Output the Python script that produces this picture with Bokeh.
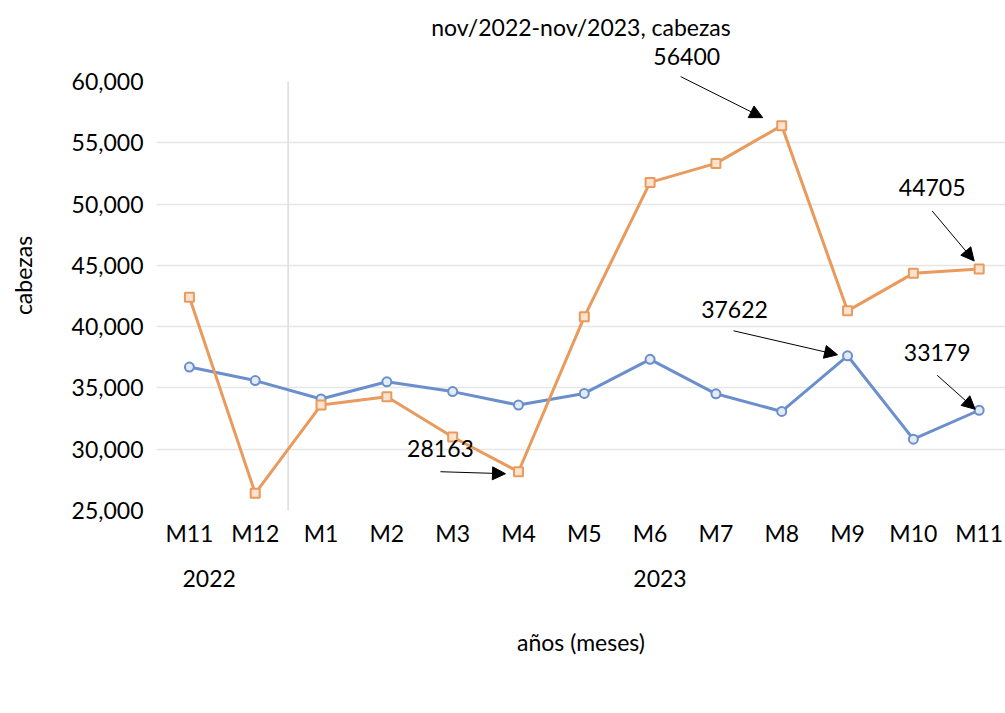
import math
from bokeh.plotting import figure
from bokeh.models import (Range1d, FixedTicker, NumeralTickFormatter, Label, Arrow,
                          NormalHead, Legend, LegendItem, LinearAxis)
from bokeh.embed import file_html
from bokeh.resources import INLINE

months = ["M11", "M12", "M1", "M2", "M3", "M4", "M5", "M6", "M7", "M8", "M9", "M10", "M11"]
antioquia = [36700, 35600, 34100, 35500, 34700, 33600, 34550, 37330, 34520, 33080, 37622, 30820, 33179]
caribe = [42400, 26400, 33600, 34280, 31000, 28163, 40800, 51770, 53320, 56400, 41290, 44350, 44705]
y_ticks = [25000, 30000, 35000, 40000, 45000, 50000, 55000, 60000]
years = ["2022", "2023"]
year_pos = [0.3, 7.15]

FONT = "Lato"
BLUE = "#6a8fcc"
ORANGE = "#e99a5c"
FS = "23px"

x = list(range(len(months)))

# scale helpers (pixels -> data units)
PX_X = 65.8          # pixels per category
PX_Y = 429 / 35000   # pixels per unit value

p = figure(frame_width=849, frame_height=470, output_backend="svg", toolbar_location=None,
           x_range=Range1d(-0.5, 12.4), y_range=Range1d(25000, 60000 + 41 / PX_Y),
           min_border_left=156, min_border_top=40, min_border_right=0, min_border_bottom=170)
p.outline_line_color = None
p.background_fill_color = "white"
p.border_fill_color = "white"

p.title.text = "nov/2022-nov/2023, cabezas"
p.title.align = "center"
p.title.text_font = FONT
p.title.text_font_size = FS
p.title.text_font_style = "normal"
p.title.text_color = "#000000"
p.title.standoff = 0

# axes
p.yaxis.ticker = FixedTicker(ticks=y_ticks)
p.yaxis.bounds = (y_ticks[0], y_ticks[-1])
p.yaxis.formatter = NumeralTickFormatter(format="0,0")
p.yaxis.axis_line_color = None
p.yaxis.major_tick_line_color = None
p.yaxis.minor_tick_line_color = None
p.yaxis.major_tick_out = 0
p.yaxis.major_tick_in = 0
p.yaxis.major_label_standoff = 13
p.yaxis.major_label_text_font = FONT
p.yaxis.major_label_text_font_size = FS
p.yaxis.major_label_text_color = "#000000"
p.yaxis.axis_label = "cabezas"
p.yaxis.axis_label_standoff = 32
p.yaxis.axis_label_text_font = FONT
p.yaxis.axis_label_text_font_size = FS
p.yaxis.axis_label_text_font_style = "normal"
p.yaxis.axis_label_text_color = "#000000"

p.xaxis.ticker = FixedTicker(ticks=x)
p.xaxis.major_label_overrides = {i: m for i, m in enumerate(months)}
p.xaxis.axis_line_color = None
p.xaxis.major_tick_line_color = None
p.xaxis.minor_tick_line_color = None
p.xaxis.major_tick_out = 0
p.xaxis.major_tick_in = 0
p.xaxis.major_label_standoff = 8
p.xaxis.major_label_text_font = FONT
p.xaxis.major_label_text_font_size = FS
p.xaxis.major_label_text_color = "#000000"

yr_axis = LinearAxis(ticker=FixedTicker(ticks=year_pos),
                     major_label_overrides={pos: yr for pos, yr in zip(year_pos, years)},
                     axis_line_color=None, major_tick_line_color=None, minor_tick_line_color=None,
                     major_tick_out=0, major_tick_in=0,
                     major_label_standoff=20, major_label_text_font=FONT,
                     major_label_text_font_size=FS, major_label_text_color="#000000",
                     axis_label="años (meses)", axis_label_standoff=38,
                     axis_label_text_font=FONT, axis_label_text_font_size=FS,
                     axis_label_text_font_style="normal", axis_label_text_color="#000000")
p.add_layout(yr_axis, "below")

p.xgrid.grid_line_color = None
p.ygrid.ticker = FixedTicker(ticks=y_ticks[1:-1])
p.ygrid.grid_line_color = "#e6e6e6"
p.ygrid.grid_line_width = 1.5

# separator between years
p.segment(x0=[1.5], y0=[y_ticks[0]], x1=[1.5], y1=[y_ticks[-1]], line_color="#dcdcdc", line_width=1.5)

# series
l1 = p.line(x, antioquia, line_color=BLUE, line_width=3)
m1 = p.scatter(x, antioquia, marker="circle", size=9, line_color=BLUE, line_width=2, fill_color="#e4ebf7")
l2 = p.line(x, caribe, line_color=ORANGE, line_width=3)
m2 = p.scatter(x, caribe, marker="square", size=9, line_color=ORANGE, line_width=2, fill_color="#fbe3d0")


def dx(px):
    return px / PX_X


def dy(px):
    return -px / PX_Y  # screen down = negative data


# annotations: (index, series, text offset px, arrow start px, arrow end px)
annots = [
    (9, caribe, (-95, -69), (-101, -49), (-19, -8)),
    (12, caribe, (-47, -81), (-47, -58), (-5, -8)),
    (10, antioquia, (-113, -46), (-114, -25), (-10, -1)),
    (12, antioquia, (-42, -58), (-42, -35), (-4, -1)),
    (5, caribe, (-78, -23), (-78, 0), (-13, 2)),
]
for idx, series, t_off, s_off, e_off in annots:
    v = series[idx]
    p.add_layout(Label(x=idx + dx(t_off[0]), y=v + dy(t_off[1]), text=str(v),
                       text_align="center", text_baseline="middle",
                       text_font=FONT, text_font_size=FS, text_color="#000000"))
    p.add_layout(Arrow(x_start=idx + dx(s_off[0]), y_start=v + dy(s_off[1]),
                       x_end=idx + dx(e_off[0]), y_end=v + dy(e_off[1]),
                       line_color="black", line_width=1,
                       end=NormalHead(size=13, fill_color="black", line_color="black")))

legend = Legend(items=[LegendItem(label="oferta antioquia", renderers=[l1, m1]),
                       LegendItem(label="oferta caribe", renderers=[l2, m2])],
                orientation="horizontal", location="top_center", margin=0,
                label_text_font=FONT, label_text_font_size="22px", label_text_color="#000000",
                label_standoff=10, glyph_width=50, glyph_height=20, spacing=18, padding=6,
                border_line_color="#dcdcdc", background_fill_alpha=1)
p.add_layout(legend, "below")

open("out.html", "w").write(file_html(p, INLINE))
